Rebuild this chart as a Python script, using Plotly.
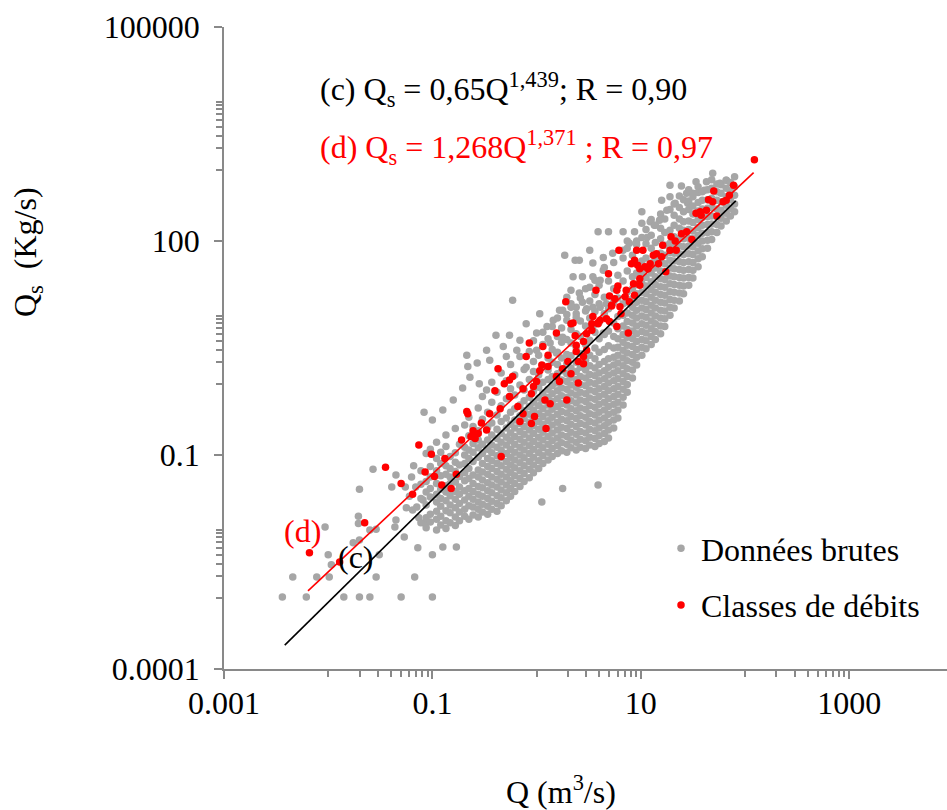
import plotly.graph_objects as go

# ---------------- data (log10 values) ----------------
# Classes de débits : (log10 Q, log10 Qs)
red_log = [
    (-2.18, -2.37), (-1.89, -2.50), (-1.65, -1.95), (-1.45, -1.17), (-1.30, -1.40), (-1.19, -1.55),
    (-1.13, -0.86), (-0.72, -0.79), (-1.01, -0.99), (-0.88, -1.05), (-1.07, -1.24), (-0.98, -1.30),
    (-0.91, -1.42), (-0.82, -1.47), (-0.77, -1.27),
    (0.28, 1.15), (0.72, 1.09), (0.54, 0.94), (0.61, 0.89), (0.67, 0.91), (0.33, 0.84), (0.19, 0.71),
    (0.37, 0.67), (0.48, 0.70), (0.53, 0.75), (0.45, 0.59), (-0.07, 0.57), (0.06, 0.52), (0.38, 0.45),
    (-0.10, 0.38), (0.11, 0.40), (0.45, 0.38), (0.45, 0.28), (0.05, 0.26), (0.11, 0.24), (0.03, 0.18),
    (-0.37, 0.21), (0.25, 0.21), (0.19, 0.10), (0.22, 0.03), (0.33, 0.14), (-0.23, 0.10), (-0.31, 0.00),
    (-0.26, 0.05), (0.00, 0.03), (-0.03, -0.04), (-0.13, -0.07), (-0.05, -0.14), (-0.40, -0.10),
    (0.40, 0.01), (-0.26, -0.18), (0.08, -0.23), (0.13, -0.28), (0.29, -0.23), (-0.18, -0.32),
    (-0.35, -0.35), (-0.67, -0.39), (-0.66, -0.42), (-0.13, -0.42), (-0.45, -0.42), (-0.02, -0.46),
    (-0.16, -0.53), (-0.05, -0.56), (-0.53, -0.55), (0.09, -0.63), (-0.48, -0.65), (-0.61, -0.66),
    (-0.56, -0.70), (-0.59, -0.77), (-0.63, -0.74), (-0.34, -1.02),
    (2.09, 3.14), (1.89, 2.78), (1.70, 2.70), (1.65, 2.58), (1.69, 2.55), (1.79, 2.55), (1.85, 2.64),
    (1.82, 2.57), (1.53, 2.39), (1.58, 2.36), (1.63, 2.43), (1.57, 2.41), (1.73, 2.35), (1.44, 2.13),
    (1.39, 2.10), (1.49, 2.02), (1.29, 2.06), (1.33, 2.00), (1.21, 1.94), (1.28, 1.87), (1.34, 1.87),
    (1.15, 1.82), (1.20, 1.78), (1.02, 1.87), (0.96, 1.87), (0.79, 1.87), (1.12, 1.80), (0.94, 1.73),
    (0.91, 1.68), (0.97, 1.66), (1.09, 1.68), (1.04, 1.64), (0.99, 1.61), (1.07, 1.61), (1.17, 1.68),
    (1.24, 1.57), (0.69, 1.54), (0.99, 1.47), (0.99, 1.38), (0.93, 1.40), (0.78, 1.37), (0.77, 1.31),
    (0.86, 1.31), (0.85, 1.22), (0.57, 1.31), (0.70, 1.23), (0.75, 1.19), (0.94, 1.24), (0.89, 1.15),
    (0.80, 1.08), (0.72, 1.10), (0.81, 0.98), (0.70, 0.87), (0.77, 0.80), (0.53, 0.84), (0.59, 0.84),
    (0.88, 0.71), (0.35, 0.85), (0.38, 0.54), (0.48, 0.47), (0.30, 0.31), (0.40, 0.31),
]

# Données brutes, isolated points : (log10 Q, log10 Qs)
gray_sparse = [
    (-2.44, -2.99), (-2.34, -2.71), (-2.21, -2.99), (-2.11, -2.71), (-2.03, -2.01), (-2.00, -2.40),
    (-1.97, -2.54), (-1.99, -2.71), (-1.85, -2.99), (-1.76, -2.23), (-1.71, -1.86), (-1.71, -1.96),
    (-1.70, -2.19), (-1.70, -1.48), (-1.70, -2.99), (-1.60, -2.05), (-1.57, -1.20), (-1.54, -2.04),
    (-1.54, -2.71), (-1.51, -2.40), (-1.60, -2.99), (-1.39, -1.45), (-1.35, -1.28), (-1.35, -1.91),
    (-1.36, -2.01), (-1.30, -2.99), (-1.26, -1.45), (-1.27, -2.15), (-1.25, -1.74), (-1.20, -1.31),
    (-1.19, -1.77), (-1.17, -2.71), (-1.15, -1.73), (-1.14, -2.30), (-1.09, -1.63), (-1.07, -1.96),
    (-1.08, -0.40), (-1.00, -2.40), (-1.00, -2.99), (-0.90, -2.29), (-0.77, -2.29), (-0.67, 0.40),
    (-0.66, 0.24), (-0.39, 0.68), (-0.32, 0.52), (-0.26, 0.68), (-0.23, 1.17), (-0.10, 0.84),
    (0.03, 0.98), (0.05, -1.66), (0.25, -1.47), (0.59, -1.42), (0.27, 1.80), (0.37, 1.73),
    (0.54, 1.50), (0.33, 1.31), (0.59, 2.13), (0.69, 2.13), (0.83, 2.13), (0.94, 2.13), (1.01, 2.41),
    (1.20, 2.57), (1.28, 2.78), (1.39, 2.77), (1.44, 2.67), (1.53, 2.83), (1.63, 2.83), (1.69, 2.95),
    (1.90, 2.90), (0.25, 1.03), (0.38, 1.07),
    (-1.22, -1.58), (-1.16, -1.45), (-1.13, -1.88), (-1.18, -1.15),
]

# Données brutes, points above the fitted lines : (log10 Q, log10 Qs)
gray_upper = [
    (0.87, 2.00), (0.96, 2.00), (1.06, 2.05), (1.13, 2.22), (1.18, 2.29), (1.09, 2.27), (1.25, 2.43),
    (1.33, 2.53), (1.45, 2.53), (1.50, 2.67), (1.61, 2.71), (1.76, 2.81), (1.82, 2.85),
    (0.51, 1.87), (0.41, 1.73), (0.54, 1.69), (0.64, 1.77), (0.73, 1.83), (0.83, 1.87), (0.89, 1.97),
    (0.35, 1.50), (0.44, 1.50), (0.64, 1.59), (0.61, 1.45), (0.51, 1.35), (0.41, 1.27), (0.29, 1.21),
    (0.33, 1.07), (0.44, 1.14), (0.54, 1.07), (0.22, 1.03),
    (-0.48, 0.47), (-0.57, 0.29), (-0.45, 0.33), (-0.29, 0.38), (-0.19, 0.47), (-0.16, 0.61),
    (0.00, 0.71), (0.10, 0.80), (0.16, 0.89), (0.29, 0.89), (0.38, 0.98), (0.48, 1.05), (0.61, 1.07),
    (0.67, 1.12), (0.00, 0.47), (-0.10, 0.23), (0.13, 0.57), (0.25, 0.65), (0.19, 0.43), (0.54, 0.80),
    (0.64, 0.71), (-0.71, -0.06), (-0.80, -0.23), (-0.90, -0.37), (-1.00, -0.51), (-0.64, 0.09),
    (-0.48, -0.09), (-0.55, 0.00),
]

# Données brutes, dense cloud : log10 Q -> list of log10 Qs
gray_cols = [
    (-1.11, [-1.95, -1.61, -1.41, -1.22]),
    (-1.06, [-2.02, -1.88, -1.70, -1.52, -1.37, -0.98]),
    (-1.02, [-1.94, -1.83, -1.59, -1.47, -1.31, -1.16, -0.92]),
    (-0.96, [-2.05, -1.90, -1.79, -1.66, -1.55, -1.40, -1.22, -1.05, -0.82]),
    (-0.92, [-1.98, -1.86, -1.72, -1.61, -1.48, -1.29, -1.12, -0.96]),
    (-0.87, [-2.03, -1.92, -1.78, -1.64, -1.52, -1.43, -1.27, -1.15, -0.88, -0.72]),
    (-0.83, [-1.95, -1.81, -1.70, -1.57, -1.40, -1.31, -1.19, -1.02]),
    (-0.78, [-1.99, -1.87, -1.74, -1.62, -1.51, -1.38, -1.23, -1.10, -0.97, -0.63]),
    (-0.74, [-1.92, -1.80, -1.68, -1.55, -1.45, -1.30, -1.14, -0.85]),
    (-0.69, [-1.86, -1.76, -1.63, -1.50, -1.36, -1.25, -1.12, -1.00, -0.89, -0.58]),
    (-0.65, [-1.90, -1.71, -1.58, -1.47, -1.33, -1.19, -1.05, -0.93, -0.73, -0.47]),
    (-0.61, [-1.84, -1.73, -1.62, -1.51, -1.40, -1.28, -1.09, -0.96, -0.84, -0.60]),
    (-0.56, [-1.87, -1.76, -1.66, -1.55, -1.44, -1.31, -1.21, -1.03, -0.90, -0.79, -0.66, -0.34]),
    (-0.52, [-1.80, -1.69, -1.58, -1.46, -1.35, -1.24, -1.12, -0.98, -0.85, -0.50, -0.18]),
    (-0.47, [-1.83, -1.72, -1.61, -1.50, -1.39, -1.27, -1.16, -1.05, -0.92, -0.79, -0.61, -0.40]),
    (-0.43, [-1.76, -1.65, -1.53, -1.42, -1.31, -1.19, -1.08, -0.97, -0.86, -0.72, -0.55, -0.26, 0.02]),
    (-0.38, [-1.79, -1.68, -1.57, -1.45, -1.34, -1.23, -1.12, -1.01, -0.89, -0.77, -0.64, -0.44, -0.12]),
    (-0.34, [-1.71, -1.60, -1.49, -1.38, -1.27, -1.15, -1.04, -0.93, -0.82, -0.70, -0.53, -0.31, 0.15]),
    (-0.29, [-1.64, -1.53, -1.42, -1.31, -1.20, -1.09, -0.98, -0.86, -0.75, -0.62, -0.48, -0.21, 0.04]),
    (-0.25, [-1.58, -1.47, -1.36, -1.25, -1.14, -1.03, -0.92, -0.80, -0.69, -0.57, -0.40, -0.07, 0.27]),
    (-0.21, [-1.51, -1.40, -1.29, -1.18, -1.07, -0.96, -0.85, -0.74, -0.62, -0.51, -0.35, -0.16, 0.12]),
    (-0.16, [-1.44, -1.33, -1.22, -1.11, -1.00, -0.89, -0.78, -0.67, -0.56, -0.45, -0.30, -0.02, 0.38]),
    (-0.12, [-1.37, -1.26, -1.15, -1.04, -0.93, -0.82, -0.71, -0.60, -0.49, -0.38, -0.24, -0.09, 0.20]),
    (-0.07, [-1.32, -1.20, -1.09, -0.98, -0.87, -0.76, -0.65, -0.54, -0.43, -0.32, -0.19, 0.06, 0.45]),
    (-0.03, [-1.25, -1.14, -1.03, -0.92, -0.81, -0.70, -0.59, -0.48, -0.37, -0.26, -0.11, 0.17, 0.31, 0.60]),
    (0.02, [-1.19, -1.08, -0.97, -0.86, -0.75, -0.64, -0.53, -0.42, -0.31, -0.20, -0.05, 0.12, 0.40]),
    (0.06, [-1.12, -1.01, -0.90, -0.79, -0.68, -0.57, -0.46, -0.35, -0.24, -0.13, 0.02, 0.25, 0.55, 0.72]),
    (0.11, [-1.07, -0.96, -0.85, -0.74, -0.63, -0.52, -0.41, -0.30, -0.19, -0.08, 0.06, 0.19, 0.36, 0.63]),
    (0.15, [-1.02, -0.91, -0.80, -0.69, -0.58, -0.47, -0.36, -0.25, -0.14, -0.03, 0.10, 0.30, 0.48, 0.80]),
    (0.20, [-0.98, -0.87, -0.76, -0.65, -0.54, -0.43, -0.32, -0.21, -0.10, 0.01, 0.14, 0.27, 0.44, 0.66, 0.92]),
    (0.24, [-0.94, -0.83, -0.72, -0.61, -0.50, -0.39, -0.28, -0.17, -0.06, 0.05, 0.18, 0.36, 0.58, 0.78]),
    (0.29, [-0.96, -0.85, -0.74, -0.63, -0.52, -0.41, -0.30, -0.19, -0.08, 0.03, 0.14, 0.28, 0.41, 0.62, 0.97]),
    (0.33, [-0.90, -0.79, -0.68, -0.57, -0.46, -0.35, -0.24, -0.13, -0.02, 0.09, 0.22, 0.39, 0.57, 0.76, 1.12]),
    (0.38, [-0.93, -0.82, -0.71, -0.60, -0.49, -0.38, -0.27, -0.16, -0.05, 0.06, 0.17, 0.30, 0.51, 0.70, 0.93]),
    (0.42, [-0.89, -0.78, -0.67, -0.56, -0.45, -0.34, -0.23, -0.12, -0.01, 0.10, 0.23, 0.42, 0.66, 0.88, 1.20]),
    (0.47, [-0.91, -0.80, -0.69, -0.58, -0.47, -0.36, -0.25, -0.14, -0.03, 0.08, 0.19, 0.33, 0.55, 0.81, 1.02, 1.33]),
    (0.51, [-0.86, -0.75, -0.64, -0.53, -0.42, -0.31, -0.20, -0.09, 0.02, 0.13, 0.25, 0.40, 0.61, 0.92, 1.16]),
    (0.56, [-0.88, -0.77, -0.66, -0.55, -0.44, -0.33, -0.22, -0.11, 0.00, 0.11, 0.22, 0.35, 0.50, 0.72, 1.01, 1.25, 1.45]),
    (0.60, [-0.84, -0.73, -0.62, -0.51, -0.40, -0.29, -0.18, -0.07, 0.04, 0.15, 0.27, 0.44, 0.63, 0.86, 1.12, 1.38]),
    (0.65, [-0.81, -0.70, -0.59, -0.48, -0.37, -0.26, -0.15, -0.04, 0.07, 0.18, 0.31, 0.48, 0.69, 0.98, 1.21, 1.63]),
    (0.69, [-0.76, -0.65, -0.54, -0.43, -0.32, -0.21, -0.10, 0.01, 0.12, 0.23, 0.35, 0.53, 0.74, 1.05, 1.44]),
    (0.74, [-0.62, -0.51, -0.40, -0.29, -0.18, -0.07, 0.04, 0.15, 0.26, 0.37, 0.50, 0.66, 0.85, 1.14, 1.33, 1.70]),
    (0.78, [-0.48, -0.37, -0.26, -0.15, -0.04, 0.07, 0.18, 0.29, 0.40, 0.51, 0.63, 0.77, 0.94, 1.20, 1.52]),
    (0.83, [-0.30, -0.19, -0.08, 0.03, 0.14, 0.25, 0.36, 0.47, 0.58, 0.69, 0.81, 0.96, 1.12, 1.44, 1.76]),
    (0.87, [-0.12, -0.01, 0.10, 0.21, 0.32, 0.43, 0.54, 0.65, 0.76, 0.87, 0.99, 1.14, 1.29, 1.58, 1.90]),
    (0.92, [0.08, 0.19, 0.30, 0.41, 0.52, 0.63, 0.74, 0.85, 0.96, 1.07, 1.19, 1.33, 1.50, 1.80]),
    (0.96, [0.26, 0.37, 0.48, 0.59, 0.70, 0.81, 0.92, 1.03, 1.14, 1.26, 1.39, 1.55, 1.95]),
    (1.01, [0.40, 0.51, 0.62, 0.73, 0.84, 0.95, 1.06, 1.17, 1.28, 1.40, 1.53, 1.72, 2.05, 2.25]),
    (1.05, [0.49, 0.60, 0.71, 0.82, 0.93, 1.04, 1.15, 1.26, 1.37, 1.49, 1.60, 1.76, 1.96, 2.16]),
    (1.10, [0.55, 0.66, 0.77, 0.88, 0.99, 1.10, 1.21, 1.32, 1.43, 1.55, 1.69, 1.90, 2.08, 2.30]),
    (1.14, [0.62, 0.73, 0.84, 0.95, 1.06, 1.17, 1.28, 1.39, 1.50, 1.62, 1.74, 1.98, 2.22]),
    (1.19, [0.70, 0.81, 0.92, 1.03, 1.14, 1.25, 1.36, 1.47, 1.58, 1.70, 1.83, 2.03, 2.18, 2.38]),
    (1.23, [0.80, 0.91, 1.02, 1.13, 1.24, 1.35, 1.46, 1.57, 1.68, 1.80, 1.94, 2.12, 2.31]),
    (1.28, [0.96, 1.07, 1.18, 1.29, 1.40, 1.51, 1.62, 1.73, 1.84, 1.97, 2.15, 2.44, 2.62]),
    (1.32, [1.06, 1.17, 1.28, 1.39, 1.50, 1.61, 1.72, 1.83, 1.94, 2.06, 2.22, 2.36, 2.52]),
    (1.37, [1.16, 1.27, 1.38, 1.49, 1.60, 1.71, 1.82, 1.93, 2.04, 2.18, 2.31, 2.47, 2.63]),
    (1.41, [1.26, 1.37, 1.48, 1.59, 1.70, 1.81, 1.92, 2.03, 2.15, 2.27, 2.41, 2.58]),
    (1.46, [1.38, 1.49, 1.60, 1.71, 1.82, 1.93, 2.04, 2.16, 2.28, 2.44, 2.56, 2.72]),
    (1.50, [1.48, 1.59, 1.70, 1.81, 1.92, 2.03, 2.14, 2.26, 2.38, 2.49, 2.62]),
    (1.55, [1.64, 1.75, 1.86, 1.97, 2.08, 2.19, 2.30, 2.42, 2.54, 2.68, 2.76]),
    (1.59, [1.78, 1.89, 2.00, 2.11, 2.22, 2.33, 2.45, 2.57, 2.69]),
    (1.64, [1.90, 2.01, 2.12, 2.23, 2.34, 2.46, 2.58, 2.72]),
    (1.68, [2.02, 2.13, 2.24, 2.35, 2.47, 2.60, 2.74, 2.86]),
    (1.73, [2.12, 2.23, 2.34, 2.45, 2.57, 2.69, 2.80]),
    (1.77, [2.21, 2.32, 2.43, 2.55, 2.67, 2.79]),
    (1.82, [2.28, 2.39, 2.50, 2.62, 2.74, 2.85]),
    (1.86, [2.35, 2.46, 2.58, 2.70, 2.82]),
    (1.90, [2.41, 2.52, 2.64, 2.76]),
]

# fitted power laws shown on the chart (coef, exponent, Q range of the data)
fit_c = dict(a=0.65, b=1.439, qmin=0.00383, qmax=81.5)
fit_d = dict(a=1.268, b=1.371, qmin=0.0064, qmax=121.0)

x_tickvals = [0.001, 0.1, 10, 1000]
x_ticktext = ["0.001", "0.1", "10", "1000"]
y_tickvals = [0.0001, 0.1, 100, 100000]
y_ticktext = ["0.0001", "0.1", "100", "100000"]
x_minor = [k * m for m in (0.01, 1, 100) for k in range(1, 10)]
y_minor = [k * m for m in (0.001, 1, 1000) for k in range(1, 10)]

# ---------------- build ----------------
gray_x, gray_y = [], []
for a, b in gray_sparse + gray_upper:
    gray_x.append(10 ** a); gray_y.append(10 ** b)
for a, col in gray_cols:
    for b in col:
        gray_x.append(10 ** a); gray_y.append(10 ** b)
red_x = [10 ** a for a, b in red_log]
red_y = [10 ** b for a, b in red_log]

W, H = 947, 810
L, R, T, B = 224, 0, 27, 141
PW, PH = W - L - R, H - T - B


def px(xp):
    return (xp - L) / PW


def py(yp):
    return 1 - (yp - T) / PH


FONT = "Liberation Serif, Times New Roman, serif"
FS = 32
AX = "#898989"

fig = go.Figure()
fig.add_trace(go.Scatter(x=gray_x, y=gray_y, mode="markers", name="Données brutes",
                         legendgroup="g", marker=dict(color="#A6A6A6", size=7.5, line=dict(width=0))))
fig.add_trace(go.Scatter(x=red_x, y=red_y, mode="markers", name="Classes de débits",
                         legendgroup="r", marker=dict(color="#FF0000", size=7.5, line=dict(width=0))))
for fit, col in ((fit_c, "black"), (fit_d, "#FF0000")):
    qs = [fit["qmin"], fit["qmax"]]
    fig.add_trace(go.Scatter(x=qs, y=[fit["a"] * q ** fit["b"] for q in qs], mode="lines",
                             showlegend=False, line=dict(color=col, width=1.6)))

axis_common = dict(type="log", showgrid=False, zeroline=False, showline=True, linecolor=AX,
                   linewidth=1.5, ticks="outside", tickcolor=AX, tickwidth=1.5, ticklen=8,
                   tickfont=dict(family=FONT, size=FS, color="black"), tickmode="array")
fig.update_xaxes(**axis_common, range=[-3, -3 + PW / 104.2], tickvals=x_tickvals, ticktext=x_ticktext,
                 ticklabelstandoff=-3,
                 minor=dict(tickmode="array", tickvals=x_minor, ticks="outside", ticklen=6,
                            tickcolor=AX, tickwidth=1.5, showgrid=False))
fig.update_yaxes(**axis_common, range=[-4, 5], tickvals=y_tickvals, ticktext=y_ticktext,
                 ticklabelstandoff=8,
                 minor=dict(tickmode="array", tickvals=y_minor, ticks="outside", ticklen=6,
                            tickcolor=AX, tickwidth=1.5, showgrid=False))

ann = [
    dict(x=px(318), y=py(89), text="(c) Q<sub>s</sub> = 0,65Q<sup>1,439</sup>; R = 0,90",
         xanchor="left", yanchor="middle", font=dict(color="black")),
    dict(x=px(318), y=py(147), text="(d) Q<sub>s</sub> = 1,268Q<sup>1,371</sup> ; R = 0,97",
         xanchor="left", yanchor="middle", font=dict(color="#FF0000")),
    dict(x=px(302), y=py(531), text="(d)", xanchor="center", yanchor="middle", font=dict(color="#FF0000")),
    dict(x=px(356), y=py(557), text="(c)", xanchor="center", yanchor="middle", font=dict(color="black")),
    dict(x=px(27), y=py(252), text="Q<sub>s</sub>  (Kg/s)", textangle=-90, xanchor="center",
         yanchor="middle", font=dict(color="black")),
    dict(x=px(561), y=py(790), text="Q (m<sup>3</sup>/s)", xanchor="center", yanchor="middle",
         font=dict(color="black")),
]
for a in ann:
    a.update(xref="paper", yref="paper", showarrow=False)
    a["font"].update(family=FONT, size=FS)

fig.update_layout(
    width=W, height=H, margin=dict(l=L, r=R, t=T, b=B, pad=0),
    paper_bgcolor="white", plot_bgcolor="white",
    annotations=ann,
    legend=dict(x=px(661), y=py(521), xanchor="left", yanchor="top", bgcolor="rgba(0,0,0,0)",
                font=dict(family=FONT, size=FS, color="black"), tracegroupgap=12,
                itemsizing="trace"),
    hovermode=False,
)
fig.write_html("out.html", config={"displayModeBar": False},
               post_script="document.body.style.margin='0px';")
